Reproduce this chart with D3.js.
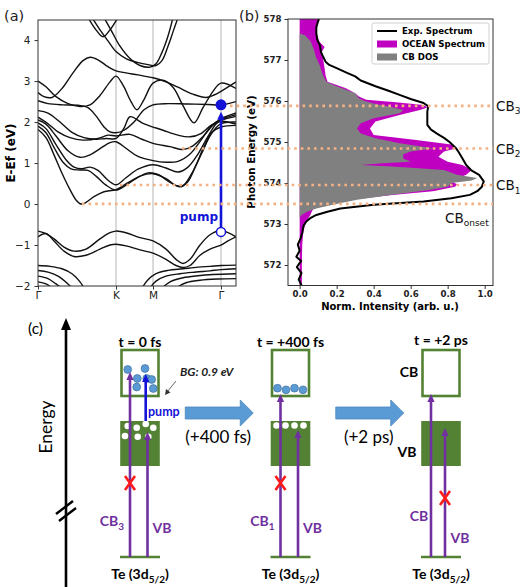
<!DOCTYPE html>
<html>
<head>
<meta charset="utf-8">
<script src="https://cdn.jsdelivr.net/npm/d3@7"></script>
<style>
  body { margin: 0; background: #fff; }
  svg { display: block; }
</style>
</head>
<body>
<svg id="fig" width="520" height="587"></svg>
<script>
// ---------- panel (a): band structure, [k, E-Ef] ----------
var kTicks = [0, 78, 115, 183];
var kLabels = ['Γ', 'K', 'M', 'Γ'];
var energyTicksA = [-2, -1, 0, 1, 2, 3, 4];

var valenceBands = [
    [[0,-0.66],[8,-0.72],[16,-0.85],[26,-1.05],[36,-1.15],[48,-1.1],[62,-0.85],[72,-0.7],[78,-0.66],[88,-0.7],[102,-0.82],[115,-0.9],[128,-1.1],[138,-1.35],[145,-1.45],[152,-1.35],[162,-1.0],[172,-0.75],[183,-0.64],[190,-0.7],[198,-0.8]],
    [[0,-0.8],[8,-0.72],[16,-0.9],[26,-1.15],[36,-1.28],[48,-1.25],[62,-1.1],[72,-1.0],[78,-0.98],[88,-1.02],[102,-1.12],[115,-1.2],[128,-1.35],[138,-1.5],[145,-1.55],[152,-1.5],[162,-1.25],[172,-1.1],[183,-1.0],[190,-0.9],[198,-0.8]],
    [[0,-1.5],[12,-1.52],[24,-1.58],[34,-1.7],[42,-1.9],[46,-2.05]],
    [[0,-1.62],[10,-1.66],[20,-1.76],[30,-1.95],[34,-2.05]],
    [[0,-1.76],[10,-1.82],[18,-1.95],[24,-2.05]],
    [[0,-1.9],[8,-1.95],[14,-2.05]],
    [[104,-2.05],[110,-1.85],[118,-1.7],[130,-1.62],[145,-1.58],[160,-1.54],[172,-1.52],[183,-1.5],[198,-1.49]],
    [[112,-2.05],[118,-1.88],[128,-1.76],[142,-1.7],[158,-1.66],[172,-1.63],[183,-1.6],[198,-1.58]],
    [[124,-2.05],[132,-1.9],[145,-1.8],[160,-1.75],[175,-1.72],[198,-1.7]],
    [[138,-2.05],[148,-1.92],[162,-1.86],[180,-1.83],[198,-1.82]]
];

var conductionBands = [
    [[0,1.82],[8,1.62],[16,1.2],[24,0.75],[32,0.35],[38,0.1],[43,0.0],[48,0.04],[56,0.18],[66,0.3],[78,0.35],[90,0.52],[102,0.68],[115,0.74],[128,0.62],[137,0.46],[143,0.42],[150,0.55],[158,0.95],[166,1.4],[174,1.75],[183,1.88],[198,1.92]],
    [[0,1.9],[8,1.74],[16,1.38],[25,1.02],[33,0.86],[42,0.83],[50,0.82],[58,0.68],[68,0.46],[78,0.34],[88,0.46],[98,0.62],[110,0.76],[120,0.72],[130,0.56],[140,0.44],[146,0.47],[155,0.8],[164,1.25],[173,1.7],[183,1.96],[198,2.0]],
    [[0,1.98],[8,1.84],[18,1.45],[28,1.08],[36,0.9],[44,0.86],[52,0.9],[60,0.82],[70,0.58],[78,0.47],[88,0.64],[100,0.85],[115,0.96],[128,0.88],[140,0.78],[150,0.9],[160,1.22],[170,1.65],[178,1.95],[183,2.04],[198,2.14]],
    [[0,2.05],[8,1.95],[18,1.66],[30,1.3],[42,1.14],[52,1.2],[62,1.35],[72,1.5],[78,1.52],[88,1.36],[100,1.16],[115,1.06],[128,1.02],[140,1.04],[152,1.22],[163,1.56],[173,1.9],[183,2.08],[198,2.22]],
    [[0,2.12],[10,1.96],[20,1.76],[32,1.62],[45,1.56],[60,1.6],[70,1.68],[78,1.66],[92,1.7],[104,1.58],[115,1.48],[132,1.4],[145,1.33],[155,1.42],[165,1.65],[175,1.92],[183,2.06],[198,2.18]],
    [[0,2.28],[10,2.22],[22,2.0],[34,1.75],[46,1.62],[58,1.58],[68,1.6],[78,1.6],[86,1.85],[92,2.13],[105,1.97],[125,1.8],[140,1.68],[152,1.64],[163,1.72],[173,1.92],[183,2.02],[198,1.95]],
    [[0,2.52],[10,2.45],[25,2.42],[40,2.41],[50,2.35],[58,2.15],[66,1.88],[72,1.76],[78,1.74],[86,1.8],[96,2.0],[106,2.3],[115,2.42],[130,2.45],[150,2.44],[170,2.43],[183,2.42],[198,2.5]],
    [[0,3.0],[8,2.86],[18,2.62],[30,2.45],[42,2.38],[52,2.42],[62,2.65],[72,2.98],[78,3.12],[85,2.9],[93,2.5],[99,2.3],[106,2.55],[115,2.95],[125,3.02],[135,2.85],[145,2.4],[156,1.98],[165,2.35],[175,2.75],[183,2.95],[198,2.82]],
    [[0,2.72],[6,2.62],[14,2.6],[25,2.85],[35,3.2],[45,3.5],[52,3.58],[60,3.52],[70,3.35],[78,3.25],[88,3.2],[100,3.15],[115,3.08],[128,2.98],[140,2.85],[155,2.68],[168,2.6],[176,2.66],[183,2.75],[198,2.98]],
    [[50,4.55],[58,4.25],[65,4.08],[72,4.25],[80,4.55]],
    [[54,4.55],[62,4.25],[70,3.98],[78,3.72],[88,3.55],[100,3.45],[110,3.4],[118,3.38],[124,3.5],[130,3.85],[135,4.2],[140,4.55]],
    [[66,4.55],[74,4.2],[82,3.85],[92,3.55],[102,3.38],[112,3.34],[118,3.42],[124,3.7],[130,4.1],[135,4.55]]
];

// pump transition at the right Γ point
var pumpK = 183, pumpFrom = -0.68, pumpTo = 2.42;

// ---------- panel (b): XAS spectra, [photon energy, norm. intensity] ----------
var expSpectrum = [
    [571.5,0.01],[571.65,-0.005],[571.8,0.01],[571.95,-0.015],[572.1,0.008],[572.2,-0.018],[572.35,0.0],[572.5,-0.01],
    [572.65,0.005],[572.8,0.015],[572.95,0.02],[573.06,0.036],[573.15,0.06],[573.22,0.09],[573.3,0.15],[573.38,0.22],
    [573.47,0.4],[573.55,0.67],[573.63,0.82],[573.71,0.92],[573.8,0.96],[573.91,0.985],[574.04,0.995],[574.2,0.97],
    [574.3,0.93],[574.44,0.9],[574.6,0.88],[574.75,0.86],[574.85,0.845],[575.0,0.81],[575.1,0.78],[575.21,0.74],
    [575.3,0.71],[575.42,0.69],[575.6,0.69],[575.74,0.69],[575.87,0.695],[575.95,0.67],[576.05,0.6],[576.15,0.54],
    [576.25,0.48],[576.36,0.41],[576.5,0.33],[576.6,0.3],[576.7,0.25],[576.8,0.2],[576.88,0.16],[576.96,0.14],
    [577.1,0.125],[577.2,0.115],[577.35,0.11],[577.5,0.095],[577.65,0.09],[577.8,0.09],[577.95,0.1],[578.0,0.105]
];
var oceanSpectrum = [
    [571.5,0.012],[572.0,0.012],[572.5,0.014],[572.82,0.02],[573.06,0.035],[573.22,0.058],[573.3,0.065],[573.38,0.075],
    [573.47,0.12],[573.55,0.2],[573.63,0.35],[573.71,0.5],[573.8,0.72],[573.91,0.84],[573.97,0.85],[574.04,0.82],
    [574.2,0.9],[574.32,0.93],[574.44,0.88],[574.52,0.8],[574.64,0.75],[574.77,0.78],[574.85,0.85],[574.93,0.83],
    [575.05,0.63],[575.17,0.4],[575.33,0.38],[575.5,0.41],[575.66,0.54],[575.78,0.65],[575.84,0.69],[575.9,0.67],
    [575.97,0.52],[576.03,0.36],[576.11,0.32],[576.19,0.3],[576.31,0.25],[576.47,0.15],[576.63,0.14],[576.8,0.135],
    [577.04,0.126],[577.2,0.12],[577.32,0.135],[577.45,0.105],[577.69,0.09],[577.94,0.1],[578.0,0.1]
];
var cbDos = [
    [573.15,0.0],[573.22,0.01],[573.3,0.04],[573.38,0.09],[573.47,0.18],[573.59,0.31],[573.71,0.49],[573.83,0.7],
    [573.91,0.8],[574.0,0.82],[574.06,0.93],[574.12,0.96],[574.2,0.85],[574.32,0.78],[574.4,0.5],[574.44,0.33],
    [574.48,0.45],[574.52,0.6],[574.6,0.56],[574.7,0.56],[574.77,0.6],[574.85,0.72],[574.97,0.54],[575.09,0.41],
    [575.21,0.33],[575.33,0.31],[575.46,0.33],[575.58,0.4],[575.7,0.54],[575.78,0.56],[575.86,0.49],[575.94,0.4],
    [576.0,0.35],[576.07,0.32],[576.19,0.3],[576.31,0.23],[576.38,0.19],[576.47,0.144],[576.63,0.126],[576.88,0.108],
    [577.05,0.09],[577.28,0.075],[577.45,0.06],[577.6,0.03],[577.65,0.0]
];
var photonTicks = [572, 573, 574, 575, 576, 577, 578];
var intensityTicks = [0, 0.2, 0.4, 0.6, 0.8, 1.0];
var legendLabels = ['Exp. Spectrum', 'OCEAN Spectrum', 'CB DOS'];

// conduction band features marked by the dotted lines (photon energy) and where they start in (a)
var cbLevels = [575.88, 574.84, 573.95, 573.49];
var cbLevelStartK = [192, 144, 82, 44];
var cbNames = [['CB', '3'], ['CB', '2'], ['CB', '1'], ['CB', 'onset']];

// ---------- panel (c): pump-probe scheme ----------
var stages = ['t = 0 fs', 't = +400 fs', 't = +2 ps'];
var delays = ['(+400 fs)', '(+2 ps)'];
var probeLabels = [['CB', '3'], ['CB', '1'], ['CB', '']];
var blockedProbe = ['CB', 'CB', 'VB'];
var hotElectrons = [7, 4, 0];
var holes = [7, 4, 0];

var W = 520, H = 587;
var svg = d3.select('#fig');
svg.append('rect').attr('width', W).attr('height', H).attr('fill', '#fff');

var mplFont = 'DejaVu Sans, sans-serif';
var slideFont = 'Lato, Open Sans, sans-serif';

// =================== (a) ===================
var xa = d3.scaleLinear().domain([0, 198]).range([38, 236]);
var ya = d3.scaleLinear().domain([-2, 4.49]).range([286, 20]);
var ga = svg.append('g');

svg.append('defs').append('clipPath').attr('id', 'clipA')
    .append('rect').attr('x', 38).attr('y', 20).attr('width', 198).attr('height', 266);

ga.selectAll('.vgrid').data(kTicks.slice(1)).enter().append('line')
    .attr('x1', function (d) { return xa(d); }).attr('x2', function (d) { return xa(d); })
    .attr('y1', 20).attr('y2', 286)
    .attr('stroke', '#b5b5b5').attr('stroke-width', 1);

var bandLine = d3.line()
    .x(function (d) { return xa(d[0]); })
    .y(function (d) { return ya(d[1]); })
    .curve(d3.curveCatmullRom.alpha(0.5));

ga.append('g').attr('clip-path', 'url(#clipA)')
    .selectAll('path').data(valenceBands.concat(conductionBands)).enter().append('path')
    .attr('d', bandLine)
    .attr('fill', 'none').attr('stroke', '#111').attr('stroke-width', 1.4);

var axA = ga.append('g').attr('transform', 'translate(38,0)')
    .call(d3.axisLeft(ya).tickValues(energyTicksA).tickSize(3.5).tickPadding(4)
        .tickFormat(function (d) { return d < 0 ? '\u2212' + Math.abs(d) : d; }));
var axAb = ga.append('g').attr('transform', 'translate(0,286)')
    .call(d3.axisBottom(xa).tickValues(kTicks).tickSize(3.5).tickPadding(2)
        .tickFormat(function (d, i) { return kLabels[i]; }));
[axA, axAb].forEach(function (ax) {
    ax.select('.domain').remove();
    ax.selectAll('text').attr('font-family', mplFont).attr('font-size', 10.5).attr('fill', '#222');
    ax.selectAll('line').attr('stroke', '#333');
});
ga.append('rect').attr('x', 38).attr('y', 20).attr('width', 198).attr('height', 266)
    .attr('fill', 'none').attr('stroke', '#333').attr('stroke-width', 1);

ga.append('text').attr('transform', 'translate(15,153) rotate(-90)')
    .attr('text-anchor', 'middle').attr('font-family', mplFont).attr('font-weight', 'bold')
    .attr('font-size', 12).text('E-Ef (eV)');

// pump arrow
var pumpColor = '#1414d8';
var px = xa(pumpK);
ga.append('line').attr('x1', px).attr('x2', px)
    .attr('y1', ya(pumpFrom) - 4.5).attr('y2', ya(pumpTo) + 12)
    .attr('stroke', pumpColor).attr('stroke-width', 2.6);
ga.append('path')
    .attr('d', 'M' + px + ',' + (ya(pumpTo) + 7) + 'l-3.8,8h7.6z')
    .attr('fill', pumpColor);
ga.append('circle').attr('cx', px).attr('cy', ya(pumpTo)).attr('r', 5.5).attr('fill', pumpColor);
ga.append('circle').attr('cx', px).attr('cy', ya(pumpFrom)).attr('r', 4.5)
    .attr('fill', '#fff').attr('stroke', pumpColor).attr('stroke-width', 1.5);
ga.append('text').attr('x', 218).attr('y', 221).attr('text-anchor', 'end')
    .attr('font-family', mplFont).attr('font-weight', 'bold').attr('font-size', 12)
    .attr('fill', pumpColor).text('pump');

svg.append('text').attr('x', 4).attr('y', 21).attr('font-family', mplFont)
    .attr('font-size', 14.5).attr('fill', '#222').text('(a)');

// =================== (b) ===================
var xb = d3.scaleLinear().domain([-0.063, 1.045]).range([288, 493]);
var yb = d3.scaleLinear().domain([571.5, 578]).range([285.5, 19]);
var gb = svg.append('g');

svg.select('defs').append('clipPath').attr('id', 'clipB')
    .append('rect').attr('x', 288).attr('y', 19).attr('width', 205).attr('height', 266.5);

var fillArea = d3.area()
    .y(function (d) { return yb(d[0]); })
    .x0(xb(0))
    .x1(function (d) { return xb(d[1]); });
var specLine = d3.line()
    .y(function (d) { return yb(d[0]); })
    .x(function (d) { return xb(d[1]); });

var plotB = gb.append('g').attr('clip-path', 'url(#clipB)');
plotB.append('path').datum(oceanSpectrum).attr('d', fillArea).attr('fill', '#c000c0');
plotB.append('path').datum(cbDos).attr('d', fillArea).attr('fill', '#808080');
plotB.append('path').datum(expSpectrum).attr('d', specLine)
    .attr('fill', 'none').attr('stroke', '#000').attr('stroke-width', 2).attr('stroke-linejoin', 'round');

var axB = gb.append('g').attr('transform', 'translate(288,0)')
    .call(d3.axisLeft(yb).tickValues(photonTicks).tickSize(3.5).tickPadding(3).tickFormat(d3.format('d')));
var axBb = gb.append('g').attr('transform', 'translate(0,285.5)')
    .call(d3.axisBottom(xb).tickValues(intensityTicks).tickSize(3.5).tickPadding(2).tickFormat(d3.format('.1f')));
[axB, axBb].forEach(function (ax) {
    ax.select('.domain').remove();
    ax.selectAll('text').attr('font-family', mplFont).attr('font-weight', 'bold')
        .attr('font-size', 8.6).attr('fill', '#222');
    ax.selectAll('line').attr('stroke', '#333');
});
gb.append('rect').attr('x', 288).attr('y', 19).attr('width', 205).attr('height', 266.5)
    .attr('fill', 'none').attr('stroke', '#333').attr('stroke-width', 1);

gb.append('text').attr('transform', 'translate(255,152) rotate(-90)')
    .attr('text-anchor', 'middle').attr('font-family', mplFont).attr('font-weight', 'bold')
    .attr('font-size', 10.3).text('Photon Energy (eV)');
gb.append('text').attr('x', 390).attr('y', 310)
    .attr('text-anchor', 'middle').attr('font-family', mplFont).attr('font-weight', 'bold')
    .attr('font-size', 10).text('Norm. Intensity (arb. u.)');

// legend
var lg = gb.append('g').attr('transform', 'translate(372,23)');
lg.append('rect').attr('width', 117).attr('height', 41).attr('rx', 2)
    .attr('fill', '#fff').attr('fill-opacity', 0.85).attr('stroke', '#d0d0d0');
var legendSwatch = ['line', '#c000c0', '#808080'];
legendLabels.forEach(function (lab, i) {
    var yy = 8 + i * 13;
    if (legendSwatch[i] === 'line') {
        lg.append('line').attr('x1', 5).attr('x2', 25).attr('y1', yy).attr('y2', yy)
            .attr('stroke', '#000').attr('stroke-width', 2);
    } else {
        lg.append('rect').attr('x', 5).attr('y', yy - 3.5).attr('width', 20).attr('height', 7)
            .attr('fill', legendSwatch[i]);
    }
    lg.append('text').attr('x', 30).attr('y', yy + 3).attr('font-family', mplFont)
        .attr('font-weight', 'bold').attr('font-size', 8.6).text(lab);
});

svg.append('text').attr('x', 239).attr('y', 21).attr('font-family', mplFont)
    .attr('font-size', 14.5).attr('fill', '#222').text('(b)');

// dotted level lines running across (a) and (b)
svg.append('g').selectAll('line').data(cbLevels).enter().append('line')
    .attr('x1', function (d, i) { return xa(cbLevelStartK[i]); })
    .attr('x2', 493)
    .attr('y1', function (d) { return yb(d); }).attr('y2', function (d) { return yb(d); })
    .attr('stroke', '#f4b183').attr('stroke-width', 2.6)
    .attr('stroke-dasharray', '2.6,4');

var cbLab = svg.append('g').attr('font-family', mplFont).attr('fill', '#111');
cbNames.forEach(function (nm, i) {
    var onset = nm[1] === 'onset';
    var t = cbLab.append('text')
        .attr('x', onset ? 445 : 496)
        .attr('y', onset ? yb(cbLevels[i]) + 19 : yb(cbLevels[i]) + 5)
        .attr('font-size', 13.5);
    t.append('tspan').text(nm[0]);
    t.append('tspan').attr('dy', 3.5).attr('font-size', 9).text(nm[1]);
});

// =================== (c) ===================
var green = '#548235', purple = '#7030a0', lightBlue = '#5b9bd5';
var gc = svg.append('g');
var sx = d3.scalePoint().domain(stages).range([140, 441]);
var boxW = 37;
var lay = { cbTop: 350, cbBot: 396, vbTop: 421, vbBot: 466, core: 557 };

// energy axis with break
gc.append('line').attr('x1', 66).attr('x2', 66).attr('y1', 587).attr('y2', 326)
    .attr('stroke', '#000').attr('stroke-width', 2.6);
gc.append('path').attr('d', 'M66,318l-5,12h10z').attr('fill', '#000');
gc.append('line').attr('x1', 56).attr('y1', 514).attr('x2', 73).attr('y2', 501)
    .attr('stroke', '#000').attr('stroke-width', 2.4);
gc.append('line').attr('x1', 59).attr('y1', 521).attr('x2', 76).attr('y2', 508)
    .attr('stroke', '#000').attr('stroke-width', 2.4);
gc.append('text').attr('transform', 'translate(52,427) rotate(-90)')
    .attr('text-anchor', 'middle').attr('font-family', slideFont)
    .attr('font-size', 17.5).text('Energy');
gc.append('text').attr('x', 28).attr('y', 334).attr('font-family', slideFont)
    .attr('font-size', 15.5).text('(c)');

function upArrow(g, x, y0, y1, color, w) {
    g.append('line').attr('x1', x).attr('x2', x).attr('y1', y0).attr('y2', y1 + 6)
        .attr('stroke', color).attr('stroke-width', w);
    g.append('path').attr('d', 'M' + x + ',' + y1 + 'l-3.6,8h7.2z').attr('fill', color);
}
function redCross(g, x, y) {
    g.append('path').attr('d', 'M' + (x - 5) + ',' + (y - 7) + 'L' + (x + 5) + ',' + (y + 7) +
        'M' + (x + 5) + ',' + (y - 7) + 'L' + (x - 5) + ',' + (y + 7))
        .attr('stroke', '#ff1a1a').attr('stroke-width', 2.6).attr('fill', 'none');
}

var hotSpots = [[-12.3,369.5],[5,368.5],[-2.7,378.5],[6.7,378.5],[11.7,379.5],[-3.3,387],[13.3,388.5]];
var hotHoles = [[-12.3,426],[-3.3,427.7],[5.7,424],[13.3,427.7],[-15,436],[-2.3,436.7],[8.3,436.7]];
var cbTip = [372, 394, 394];
var vbTip = [432, 430, 428];
var txtSize = 14;

stages.forEach(function (st, i) {
    var cx = sx(st);
    var g = gc.append('g');
    g.append('text').attr('x', cx).attr('y', i === 2 ? 345 : 347).attr('text-anchor', 'middle')
        .attr('font-family', slideFont).attr('font-weight', 'bold').attr('font-size', txtSize).text(st);
    g.append('rect').attr('x', cx - boxW / 2).attr('y', lay.cbTop).attr('width', boxW)
        .attr('height', lay.cbBot - lay.cbTop).attr('fill', '#fff')
        .attr('stroke', green).attr('stroke-width', 2.6);
    g.append('rect').attr('x', cx - boxW / 2 - 1.3).attr('y', lay.vbTop).attr('width', boxW + 2.6)
        .attr('height', lay.vbBot - lay.vbTop).attr('fill', green);
    g.append('line').attr('x1', cx - 20).attr('x2', cx + 20).attr('y1', lay.core).attr('y2', lay.core)
        .attr('stroke', green).attr('stroke-width', 2.6);
    var te = g.append('text').attr('x', cx).attr('y', 579).attr('text-anchor', 'middle')
        .attr('font-family', slideFont).attr('font-weight', 'bold').attr('font-size', txtSize);
    te.append('tspan').text('Te (3d');
    te.append('tspan').attr('dy', 3.5).attr('font-size', 10).text('5/2');
    te.append('tspan').attr('dy', -3.5).text(')');

    // carriers
    var nHot = hotElectrons[i];
    if (i === 0) {
        hotSpots.slice(0, nHot).forEach(function (p) {
            g.append('circle').attr('cx', cx + p[0]).attr('cy', p[1]).attr('r', 3.9)
                .attr('fill', lightBlue).attr('stroke', '#41719c').attr('stroke-width', 0.7);
        });
        hotHoles.slice(0, holes[i]).forEach(function (p) {
            g.append('circle').attr('cx', cx + p[0]).attr('cy', p[1]).attr('r', 3.3).attr('fill', '#fff');
        });
    } else {
        d3.range(nHot).forEach(function (j) {
            g.append('circle').attr('cx', cx - 13 + j * 8.5).attr('cy', 389 - (j % 2 ? -0.8 : 0.8))
                .attr('r', 3.9).attr('fill', lightBlue).attr('stroke', '#41719c').attr('stroke-width', 0.7);
        });
        d3.range(holes[i]).forEach(function (j) {
            g.append('circle').attr('cx', cx - 14 + j * 9).attr('cy', 425.5).attr('r', 3.3).attr('fill', '#fff');
        });
    }

    // probe arrows from the core level
    var xCB = cx - 10, xVB = cx + (i === 2 ? 4 : 7.5);
    upArrow(g, xCB, lay.core, cbTip[i], purple, 2.6);
    upArrow(g, xVB, lay.core, vbTip[i], purple, 2.6);
    if (blockedProbe[i] === 'CB') redCross(g, xCB, 483);
    else redCross(g, xVB, 498);

    var pl = g.append('text').attr('x', cx - (i === 2 ? 22 : 28)).attr('y', i === 2 ? 521 : 526)
        .attr('text-anchor', 'middle').attr('font-family', slideFont).attr('font-weight', 'bold')
        .attr('font-size', txtSize).attr('fill', purple);
    pl.append('tspan').text(probeLabels[i][0]);
    if (probeLabels[i][1]) pl.append('tspan').attr('dy', 3.5).attr('font-size', 10).text(probeLabels[i][1]);
    g.append('text').attr('x', cx + (i === 2 ? 19 : 22)).attr('y', i === 2 ? 543 : 533)
        .attr('text-anchor', 'middle').attr('font-family', slideFont).attr('font-weight', 'bold')
        .attr('font-size', txtSize).attr('fill', purple).text('VB');

    if (i === 2) {
        g.append('text').attr('x', cx - 32).attr('y', 377).attr('text-anchor', 'middle')
            .attr('font-family', slideFont).attr('font-weight', 'bold').attr('font-size', txtSize).text('CB');
        g.append('text').attr('x', cx - 34).attr('y', 457).attr('text-anchor', 'middle')
            .attr('font-family', slideFont).attr('font-weight', 'bold').attr('font-size', txtSize).text('VB');
    }
    if (i === 0) {
        upArrow(g, cx + 5.7, lay.vbTop, 374, pumpColor, 2.6);
        g.append('text').attr('x', cx + 8).attr('y', 416).attr('font-family', slideFont)
            .attr('font-weight', 'bold').attr('font-size', 12.5).attr('fill', pumpColor).text('pump');
        g.append('text').attr('x', cx + 40).attr('y', 376).attr('font-family', slideFont)
            .attr('font-weight', 'bold').attr('font-style', 'italic').attr('font-size', 12)
            .attr('fill', '#222').text('BG: 0.9 eV');
        g.append('line').attr('x1', cx + 36).attr('y1', 381).attr('x2', cx + 27).attr('y2', 392)
            .attr('stroke', '#555').attr('stroke-width', 0.9);
        g.append('path').attr('d', 'M' + (cx + 25) + ',' + 395 + 'l1,-6l4.5,3.5z').attr('fill', '#333');
    }
});

// delay arrows between stages
delays.forEach(function (lab, i) {
    var mid = (sx(stages[i]) + sx(stages[i + 1])) / 2 + 3;
    var x0 = mid - 33, x1 = mid + 35, yc = 413;
    gc.append('path')
        .attr('d', 'M' + x0 + ',' + (yc - 6) + 'H' + (x1 - 13) + 'V' + (yc - 13) + 'L' + x1 + ',' + yc +
            'L' + (x1 - 13) + ',' + (yc + 13) + 'V' + (yc + 6) + 'H' + x0 + 'Z')
        .attr('fill', lightBlue).attr('stroke', '#4a86c0').attr('stroke-width', 0.8);
    gc.append('text').attr('x', mid).attr('y', 443).attr('text-anchor', 'middle')
        .attr('font-family', slideFont).attr('font-size', 17).text(lab);
});
</script>
</body>
</html>
